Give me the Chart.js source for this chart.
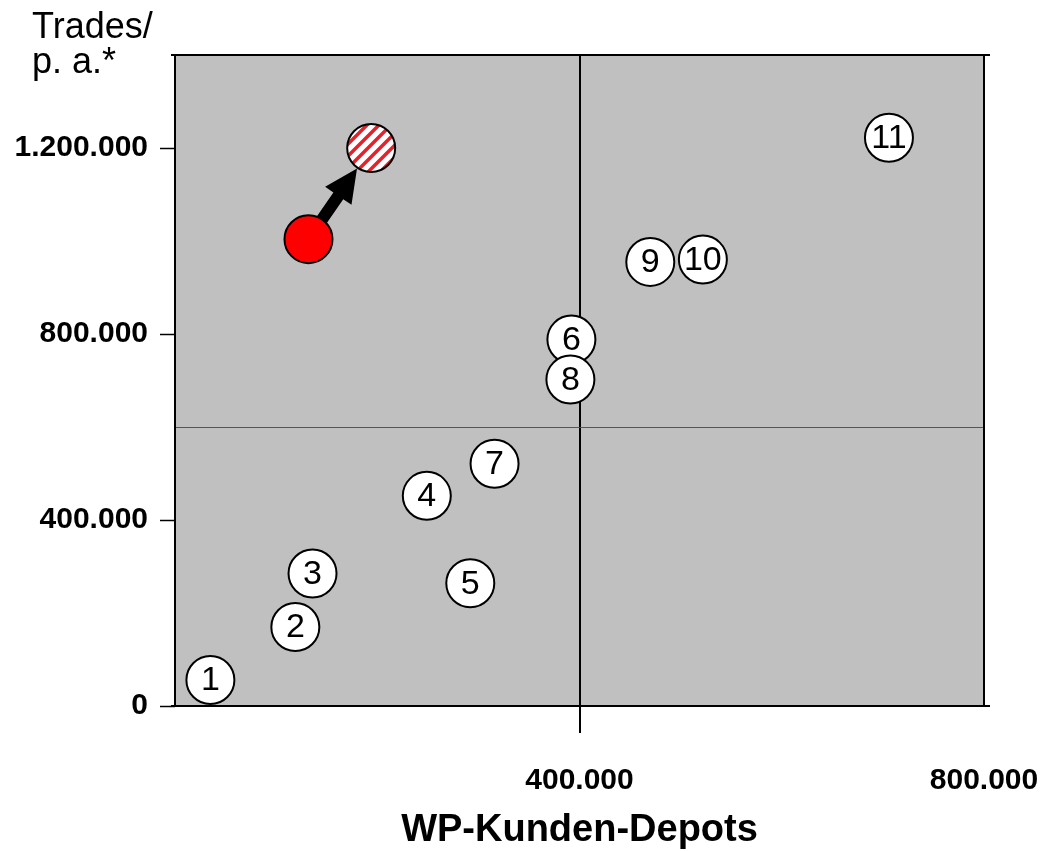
<!DOCTYPE html>
<html>
<head>
<meta charset="utf-8">
<script src="https://cdn.jsdelivr.net/npm/chart.js@4.4.0/dist/chart.umd.min.js"></script>
<style>
  html, body { margin: 0; padding: 0; background: #fff; }
</style>
</head>
<body>
<canvas id="chart" width="1046" height="851"></canvas>
<script>
// numbered competitors
var bankLabels = ['1', '2', '3', '4', '5', '6', '7', '8', '9', '10', '11'];
var bankDepots = [35000, 119000, 136000, 249000, 292000, 392000, 316000, 391000, 470000, 522000, 706000];
var bankTrades = [56000, 170000, 285000, 452000, 264000, 788000, 521000, 702000, 955000, 960000, 1222000];

// own position today (red) and target (hatched)
var ownDepots = [132000];
var ownTrades = [1004000];
var targetDepots = [194000];
var targetTrades = [1200000];

var xTickValues = [0, 400000, 800000];
var yTickValues = [0, 400000, 600000, 800000, 1200000];
var xSplit = 400000;
var ySplit = 600000;

var FONT = '"Liberation Sans", Arial, Helvetica, sans-serif';
Chart.defaults.font.family = FONT;

function fmt(v) {
    return String(v).replace(/\B(?=(\d{3})+(?!\d))/g, '.');
}

function toXY(xs, ys) {
    var arr = [];
    for (var i = 0; i < xs.length; i++) {
        arr.push({x: xs[i], y: ys[i]});
    }
    return arr;
}

function hatchPattern() {
    var c = document.createElement('canvas');
    c.width = 12; c.height = 12;
    var g = c.getContext('2d');
    g.fillStyle = '#fff';
    g.fillRect(0, 0, 12, 12);
    g.strokeStyle = '#e8202a';
    g.lineWidth = 3.5;
    g.beginPath();
    g.moveTo(-6, 18); g.lineTo(18, -6);
    g.moveTo(-6, 6); g.lineTo(6, -6);
    g.moveTo(6, 18); g.lineTo(18, 6);
    g.stroke();
    return g.createPattern(c, 'repeat');
}

var frame = {
    id: 'frame',
    beforeDraw: function (chart) {
        var a = chart.chartArea, ctx = chart.ctx;
        ctx.save();
        ctx.fillStyle = '#c0c0c0';
        ctx.fillRect(a.left, a.top, a.right - a.left, a.bottom - a.top);
        ctx.restore();
    },
    beforeDatasetsDraw: function (chart) {
        var a = chart.chartArea, ctx = chart.ctx;
        ctx.save();
        ctx.strokeStyle = '#000';
        ctx.lineWidth = 2;
        ctx.strokeRect(a.left, a.top, a.right - a.left, a.bottom - a.top);
        ctx.beginPath();
        ctx.moveTo(a.left - 4, a.top);
        ctx.lineTo(a.right + 6, a.top);
        ctx.moveTo(a.left - 4, a.bottom);
        ctx.lineTo(a.right + 6, a.bottom);
        ctx.stroke();

        // arrow from own position to target
        var p0 = chart.getDatasetMeta(1).data[0];
        var p1 = chart.getDatasetMeta(2).data[0];
        var dx = p1.x - p0.x, dy = p1.y - p0.y;
        var len = Math.sqrt(dx * dx + dy * dy);
        var ux = dx / len, uy = dy / len;
        var r = 24;
        var sx = p0.x + ux * r, sy = p0.y + uy * r;
        var tx = p1.x - ux * (r + 1), ty = p1.y - uy * (r + 1);
        var headLen = 33, headW = 16, shaftW = 6;
        var bx = tx - ux * headLen, by = ty - uy * headLen;
        var nx = -uy, ny = ux;
        ctx.fillStyle = '#000';
        ctx.beginPath();
        ctx.moveTo(sx + nx * shaftW, sy + ny * shaftW);
        ctx.lineTo(bx + nx * shaftW, by + ny * shaftW);
        ctx.lineTo(bx + nx * headW, by + ny * headW);
        ctx.lineTo(tx, ty);
        ctx.lineTo(bx - nx * headW, by - ny * headW);
        ctx.lineTo(bx - nx * shaftW, by - ny * shaftW);
        ctx.lineTo(sx - nx * shaftW, sy - ny * shaftW);
        ctx.closePath();
        ctx.fill();
        ctx.restore();
    },
    afterDatasetsDraw: function (chart) {
        var ctx = chart.ctx;
        var meta = chart.getDatasetMeta(0);
        ctx.save();
        ctx.fillStyle = '#000';
        ctx.font = '34px ' + FONT;
        ctx.textAlign = 'center';
        ctx.textBaseline = 'middle';
        for (var i = 0; i < meta.data.length; i++) {
            ctx.fillText(bankLabels[i], meta.data[i].x, meta.data[i].y + 1);
        }
        // y axis caption
        ctx.textAlign = 'left';
        ctx.textBaseline = 'alphabetic';
        ctx.font = '36px ' + FONT;
        ctx.fillText('Trades/', 32, 38);
        ctx.fillText('p. a.*', 32, 73);
        ctx.restore();
    }
};

var ctx = document.getElementById('chart');
var chart = new Chart(ctx, {
    type: 'scatter',
    data: {
        datasets: [{
            label: 'Banken',
            data: toXY(bankDepots, bankTrades),
            backgroundColor: '#fff',
            borderColor: '#000',
            borderWidth: 2,
            pointRadius: 24,
            pointHoverRadius: 24
        }, {
            label: 'Ist',
            data: toXY(ownDepots, ownTrades),
            backgroundColor: '#ff0000',
            borderColor: '#000',
            borderWidth: 2,
            pointRadius: 24,
            pointHoverRadius: 24
        }, {
            label: 'Ziel',
            data: toXY(targetDepots, targetTrades),
            backgroundColor: hatchPattern(),
            borderColor: '#000',
            borderWidth: 2,
            pointRadius: 24,
            pointHoverRadius: 24
        }]
    },
    options: {
        responsive: false,
        animation: false,
        events: [],
        layout: {padding: {top: 55, right: 62, bottom: 0, left: 0}},
        plugins: {
            legend: {display: false},
            tooltip: {enabled: false}
        },
        scales: {
            x: {
                type: 'linear',
                min: 0,
                max: 800000,
                afterBuildTicks: function (s) {
                    s.ticks = xTickValues.map(function (v) { return {value: v}; });
                },
                afterFit: function (s) {
                    s.height = 145;
                    s.paddingLeft = 0;
                    s.paddingRight = 0;
                },
                ticks: {
                    callback: function (v) { return v === 0 ? '' : fmt(v); },
                    font: {size: 30, weight: 'bold'},
                    color: '#000',
                    padding: 30,
                    maxRotation: 0,
                    autoSkip: false
                },
                grid: {
                    color: function (c) { return c.tick && c.tick.value === xSplit ? '#000' : 'transparent'; },
                    lineWidth: 2,
                    tickLength: 27
                },
                border: {display: false},
                title: {
                    display: true,
                    text: 'WP-Kunden-Depots',
                    color: '#000',
                    font: {size: 38, weight: 'bold', lineHeight: 1.1},
                    padding: {top: 0, bottom: 0}
                }
            },
            y: {
                type: 'linear',
                min: 0,
                max: 1400000,
                afterBuildTicks: function (s) {
                    s.ticks = yTickValues.map(function (v) { return {value: v}; });
                },
                afterFit: function (s) {
                    s.width = 175;
                },
                ticks: {
                    callback: function (v) { return v === ySplit ? '' : fmt(v); },
                    font: {size: 30, weight: 'bold'},
                    color: '#000',
                    padding: 12
                },
                grid: {
                    color: function (c) { return c.tick && c.tick.value === ySplit ? '#555' : 'transparent'; },
                    tickColor: function (c) { return c.tick && c.tick.value === ySplit ? 'transparent' : '#000'; },
                    lineWidth: 1,
                    tickWidth: 1.5,
                    tickLength: 15
                },
                border: {display: false}
            }
        }
    },
    plugins: [frame]
});
</script>
</body>
</html>
